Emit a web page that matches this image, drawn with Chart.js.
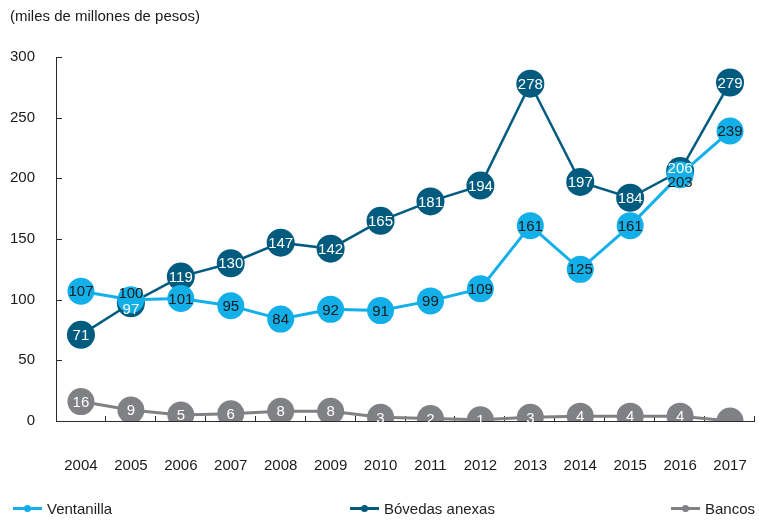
<!DOCTYPE html>
<html>
<head>
<meta charset="utf-8">
<script src="https://cdn.jsdelivr.net/npm/chart.js@4.4.0/dist/chart.umd.min.js"></script>
<style>
  html, body { margin: 0; padding: 0; background: #fff; overflow: hidden; }
  #wrap { position: relative; width: 759px; height: 520px; overflow: hidden; font-family: "Liberation Sans", Arial, sans-serif; }
  #c { position: absolute; left: 0; top: 0; }
  .leg { position: absolute; top: 499px; height: 18px; display: flex; align-items: center; font-size: 15px; color: #222; white-space: nowrap; }
  .mk { position: relative; width: 29px; height: 18px; margin-right: 5px; }
  .mk .ln { position: absolute; left: 0; right: 0; top: 8px; height: 3px; }
  .mk .dt { position: absolute; left: 11px; top: 6px; width: 7px; height: 7px; border-radius: 50%; }
</style>
</head>
<body>
<div id="wrap">
  <canvas id="c" width="769" height="520"></canvas>
  <div id="legend"></div>
</div>
<script>
const years = ['2004','2005','2006','2007','2008','2009','2010','2011','2012','2013','2014','2015','2016','2017'];
const ventanilla = [107,100,101,95,84,92,91,99,109,161,125,161,203,239];
const bovedas = [71,97,119,130,147,142,165,181,194,278,197,184,206,279];
const bancos = [16,9,5,6,8,8,3,2,1,3,4,4,4,0];
const bancosLabels = ['16','9','5','6','8','8','3','2','1','3','4','4','4',''];
const seriesNames = ['Ventanilla','Bóvedas anexas','Bancos'];
const yTicks = [0,50,100,150,200,250,300];
const unitTitle = '(miles de millones de pesos)';

const colLight = '#12afe9';
const colDark = '#005b7e';
const colGray = '#808184';
const FONT = '"Liberation Sans", Arial, sans-serif';

// label nudges (pixels) to keep overlapping labels readable, as in the original
const labelNudge = [ {1: -7, 12: 7}, {1: 6, 12: -3}, {} ];

const labelPlugin = {
  id: 'pointLabels',
  afterDatasetsDraw(chart) {
    const ctx = chart.ctx;
    ctx.save();
    ctx.font = '15px ' + FONT;
    ctx.textAlign = 'center';
    ctx.textBaseline = 'middle';
    for (let d = chart.data.datasets.length - 1; d >= 0; d--) {
      const ds = chart.data.datasets[d];
      const meta = chart.getDatasetMeta(d);
      ctx.fillStyle = ds.labelColor;
      meta.data.forEach((pt, i) => {
        const txt = ds.pointLabels ? ds.pointLabels[i] : String(ds.data[i]);
        if (txt === '') return;
        const dy = labelNudge[d][i] || 0;
        ctx.fillText(txt, pt.x, pt.y + 1 + dy);
      });
    }
    ctx.restore();
  }
};

const axisPlugin = {
  id: 'innerTicks',
  beforeDatasetsDraw(chart) {
    const ctx = chart.ctx;
    const x = chart.scales.x, y = chart.scales.y;
    const left = chart.chartArea.left, right = chart.chartArea.right;
    const top = chart.chartArea.top, bottom = chart.chartArea.bottom;
    ctx.save();
    ctx.lineWidth = 1;
    ctx.strokeStyle = '#2b2b2b';
    ctx.beginPath();
    ctx.moveTo(left + 0.5, top);
    ctx.lineTo(left + 0.5, bottom + 0.5);
    ctx.lineTo(right, bottom + 0.5);
    ctx.stroke();
    ctx.beginPath();
    yTicks.forEach(v => {
      const py = Math.round(y.getPixelForValue(v)) + 0.5;
      ctx.moveTo(left, py);
      ctx.lineTo(left + 6, py);
    });
    const half = (x.getPixelForValue(1) - x.getPixelForValue(0)) / 2;
    for (let i = 0; i < years.length; i++) {
      const px = Math.round(x.getPixelForValue(i) + half) - 0.5;
      ctx.moveTo(px, bottom);
      ctx.lineTo(px, bottom - 5);
    }
    ctx.stroke();
    ctx.restore();
  }
};

const chart = new Chart(document.getElementById('c'), {
  type: 'line',
  data: {
    labels: years,
    datasets: [
      { label: seriesNames[0], data: ventanilla, borderColor: colLight, backgroundColor: colLight,
        pointBackgroundColor: colLight, pointBorderColor: colLight, borderWidth: 3, pointRadius: 13.5,
        pointBorderWidth: 0, labelColor: '#1a1a1a', tension: 0 },
      { label: seriesNames[1], data: bovedas, borderColor: colDark, backgroundColor: colDark,
        pointBackgroundColor: colDark, pointBorderColor: colDark, borderWidth: 2.5, pointRadius: 14,
        pointBorderWidth: 0, labelColor: '#ffffff', tension: 0 },
      { label: seriesNames[2], data: bancos, borderColor: colGray, backgroundColor: colGray,
        pointBackgroundColor: colGray, pointBorderColor: colGray, borderWidth: 3, pointRadius: 13.5,
        pointBorderWidth: 0, labelColor: '#ffffff', pointLabels: bancosLabels, tension: 0 }
    ]
  },
  options: {
    responsive: false,
    animation: false,
    events: [],
    layout: { padding: { left: 10, right: 4, top: 0, bottom: 0 } },
    plugins: {
      legend: { display: false },
      tooltip: { enabled: false },
      title: {
        display: true, text: unitTitle, align: 'start', color: '#1a1a1a',
        font: { family: FONT, size: 15, weight: 'normal' },
        padding: { top: 8, bottom: 31 }
      }
    },
    scales: {
      x: {
        offset: true,
        grid: { display: false, drawTicks: false },
        border: { display: false },
        ticks: { color: '#1a1a1a', font: { family: FONT, size: 15 }, padding: 36, maxRotation: 0, autoSkip: false },
        afterFit(s) { s.height = 99; s.paddingLeft = 0; s.paddingRight = 0; }
      },
      y: {
        min: 0, max: 300,
        afterBuildTicks(s) { s.ticks = yTicks.map(v => ({ value: v })); },
        grid: { display: false, drawTicks: false },
        border: { display: false },
        ticks: { color: '#1a1a1a', font: { family: FONT, size: 15 }, padding: 21 },
        afterFit(s) { s.width = 46; s.paddingTop = 0; s.paddingBottom = 0; }
      }
    }
  },
  plugins: [axisPlugin, labelPlugin]
});

const legendPos = [13, 350, 671];
const lg = document.getElementById('legend');
chart.data.datasets.forEach((ds, i) => {
  const item = document.createElement('div');
  item.className = 'leg';
  item.style.left = legendPos[i] + 'px';
  item.innerHTML = '<span class="mk"><span class="ln" style="background:' + ds.borderColor + '"></span><span class="dt" style="background:' + ds.borderColor + '"></span></span><span>' + ds.label + '</span>';
  lg.appendChild(item);
});
</script>
</body>
</html>
